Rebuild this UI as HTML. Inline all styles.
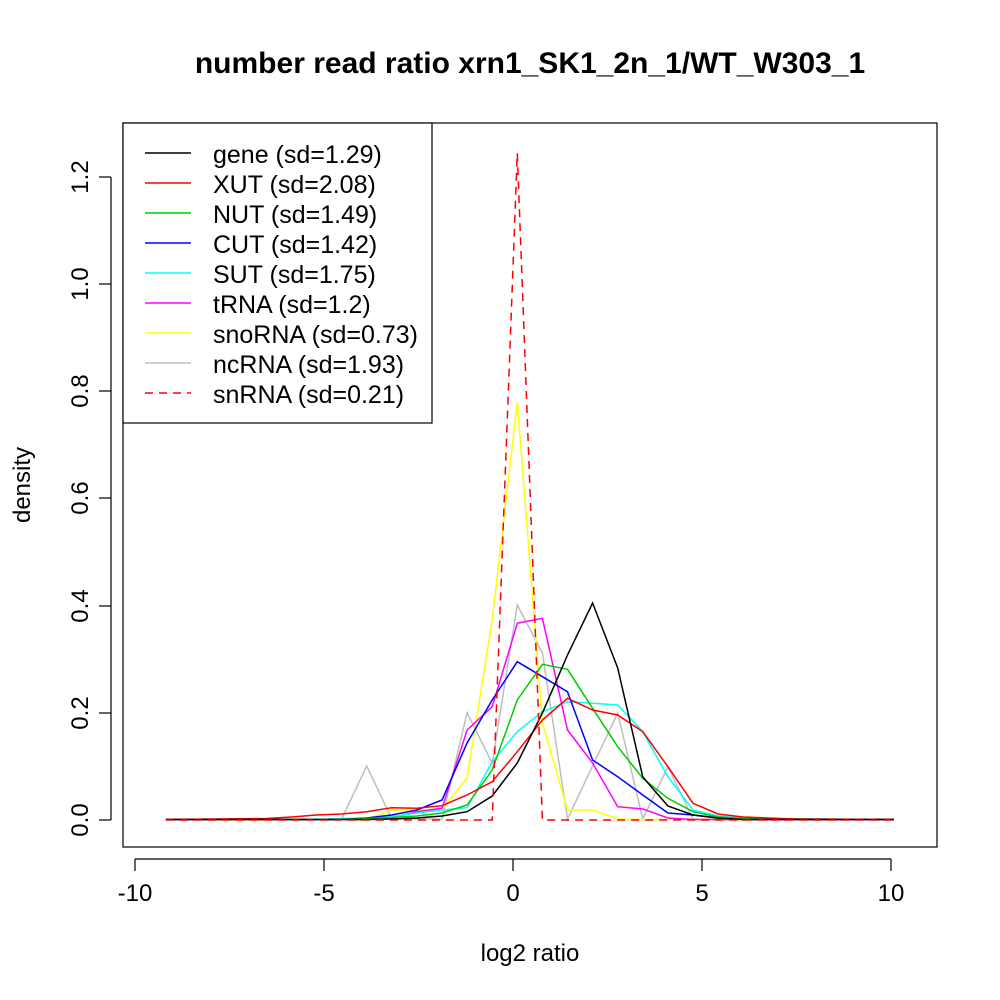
<!DOCTYPE html>
<html><head><meta charset="utf-8"><style>
html,body{margin:0;padding:0;background:#fff;}
svg{display:block;font-family:"Liberation Sans",sans-serif;}
</style></head><body>
<svg width="1000" height="1000" viewBox="0 0 1000 1000" xmlns="http://www.w3.org/2000/svg">
<rect width="1000" height="1000" fill="#fff"/>
<text x="530" y="73" font-size="30" font-weight="bold" text-anchor="middle">number read ratio xrn1_SK1_2n_1/WT_W303_1</text>
<rect x="123" y="123" width="814" height="724" fill="none" stroke="#000" stroke-width="1.2"/>
<g stroke="#000" stroke-width="1.2">
<line x1="135" y1="859" x2="891" y2="859"/>
<line x1="135" y1="859" x2="135" y2="871"/><line x1="324" y1="859" x2="324" y2="871"/><line x1="513" y1="859" x2="513" y2="871"/><line x1="702" y1="859" x2="702" y2="871"/><line x1="891" y1="859" x2="891" y2="871"/>
</g>
<g font-size="24" text-anchor="middle">
<text x="135" y="901">-10</text><text x="324" y="901">-5</text><text x="513" y="901">0</text><text x="702" y="901">5</text><text x="891" y="901">10</text>
<text x="530" y="961">log2 ratio</text>
</g>
<g stroke="#000" stroke-width="1.2">
<line x1="111" y1="177" x2="111" y2="820"/>
<line x1="99" y1="820" x2="111" y2="820"/><line x1="99" y1="713" x2="111" y2="713"/><line x1="99" y1="606" x2="111" y2="606"/><line x1="99" y1="498" x2="111" y2="498"/><line x1="99" y1="391" x2="111" y2="391"/><line x1="99" y1="284" x2="111" y2="284"/><line x1="99" y1="177" x2="111" y2="177"/>
</g>
<g font-size="24" text-anchor="middle">
<text transform="translate(88,820) rotate(-90)">0.0</text>
<text transform="translate(88,713) rotate(-90)">0.2</text>
<text transform="translate(88,606) rotate(-90)">0.4</text>
<text transform="translate(88,498) rotate(-90)">0.6</text>
<text transform="translate(88,391) rotate(-90)">0.8</text>
<text transform="translate(88,284) rotate(-90)">1.0</text>
<text transform="translate(88,177) rotate(-90)">1.2</text>
<text transform="translate(30,485) rotate(-90)">density</text>
</g>
<g fill="none" stroke-width="1.5" stroke-linejoin="miter">
<polyline stroke="#bebebe" points="165.9,819.5 316.5,819.5 341.6,819 366.7,766 391.8,819 442,819 467.1,712.7 492.2,763.3 517.3,605 542.4,653 567.5,819 617.7,713 642.8,819 667.9,766.7 693,819 718.1,819.5 893.8,819.5"/>
<polyline stroke="#ff0" points="165.9,819.5 341.6,819.5 366.7,819 391.8,810 416.9,810 442,809 467.1,778 492.2,620 517.3,402 542.4,723 567.5,810 592.6,810 617.7,819 642.8,819.5 893.8,819.5"/>
<polyline stroke="#f0f" points="165.9,819.5 366.7,819.5 391.8,818 416.9,811.7 442,808.3 467.1,730 492.2,706.7 517.3,623.3 542.4,618.3 567.5,730 592.6,763 617.7,806.7 642.8,809 667.9,818 693,819.5 893.8,819.5"/>
<polyline stroke="#0ff" points="165.9,819.5 316.5,819.5 341.6,818.5 366.7,818 391.8,816.7 416.9,813 442,810 467.1,807.7 492.2,761.7 517.3,731.7 542.4,711.7 567.5,701.7 592.6,703.3 617.7,705 642.8,731.7 667.9,776.7 693,810 718.1,816 743.2,818 768.3,819 893.8,819.5"/>
<polyline stroke="#00f" points="165.9,819.5 341.6,819.5 366.7,818 391.8,815 416.9,810 442,800 467.1,743 492.2,700 517.3,661.7 542.4,676.7 567.5,691.7 592.6,760 617.7,776.7 642.8,795 667.9,813 693,815 718.1,818 743.2,819.5 893.8,819.5"/>
<polyline stroke="#0c0" points="165.9,819.5 341.6,819.5 366.7,818.5 391.8,817.5 416.9,816 442,813 467.1,805 492.2,770 517.3,700 542.4,664.3 567.5,669.3 592.6,708.3 617.7,746.7 642.8,778.3 667.9,798.3 693,811.7 718.1,817 743.2,818.5 893.8,819.5"/>
<polyline stroke="#f00" points="165.9,819.5 266.3,818.5 291.4,817 316.5,815 341.6,814 366.7,811.7 391.8,807.7 416.9,808.3 442,805.7 467.1,795 492.2,781.7 517.3,751.7 542.4,720 567.5,698.3 592.6,710 617.7,715 642.8,731.7 667.9,766.7 693,803.3 718.1,814 743.2,817 768.3,818 793.4,819 893.8,819.5"/>
<polyline stroke="#000" points="165.9,819.5 366.7,819.5 391.8,819 416.9,818 442,816 467.1,811.7 492.2,796 517.3,763 542.4,713 567.5,655 592.6,603 617.7,668 642.8,777 667.9,806 693,815 718.1,818 743.2,819.5 893.8,819.5"/>
<polyline stroke="#f00" stroke-dasharray="8,6" points="165.9,820 492.2,820 517.3,153 542.4,820 893.8,820"/>
</g>
<rect x="123" y="123" width="309" height="300" fill="#fff" stroke="#000" stroke-width="1.2"/>
<g stroke-width="1.5">
<line x1="145" y1="153" x2="191" y2="153" stroke="#000"/>
<line x1="145" y1="183" x2="191" y2="183" stroke="#f00"/>
<line x1="145" y1="213" x2="191" y2="213" stroke="#0c0"/>
<line x1="145" y1="243" x2="191" y2="243" stroke="#00f"/>
<line x1="145" y1="273" x2="191" y2="273" stroke="#0ff"/>
<line x1="145" y1="303" x2="191" y2="303" stroke="#f0f"/>
<line x1="145" y1="333" x2="191" y2="333" stroke="#ff0"/>
<line x1="145" y1="363" x2="191" y2="363" stroke="#bebebe"/>
<line x1="145" y1="393" x2="191" y2="393" stroke="#f00" stroke-dasharray="8,6"/>
</g>
<g font-size="25">
<text x="213" y="163">gene (sd=1.29)</text>
<text x="213" y="193">XUT (sd=2.08)</text>
<text x="213" y="223">NUT (sd=1.49)</text>
<text x="213" y="253">CUT (sd=1.42)</text>
<text x="213" y="283">SUT (sd=1.75)</text>
<text x="213" y="313">tRNA (sd=1.2)</text>
<text x="213" y="343">snoRNA (sd=0.73)</text>
<text x="213" y="373">ncRNA (sd=1.93)</text>
<text x="213" y="403">snRNA (sd=0.21)</text>
</g>
</svg>
</body></html>
